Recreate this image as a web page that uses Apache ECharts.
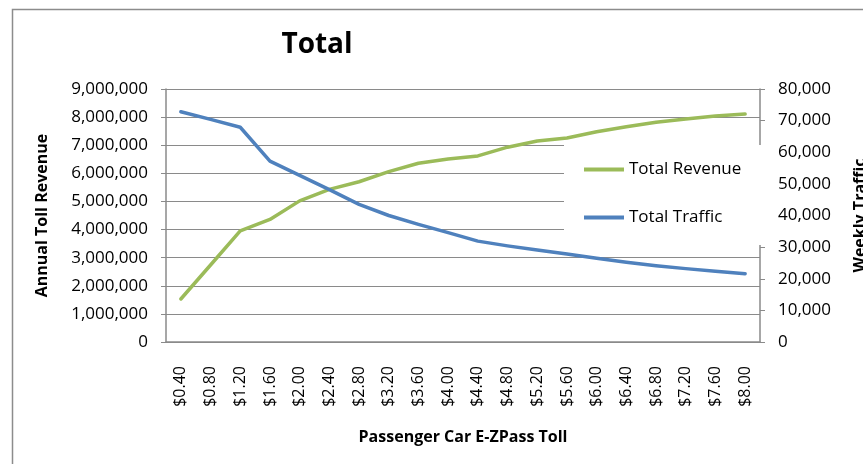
<!DOCTYPE html>
<html>
<head>
<meta charset="utf-8">
<script src="https://cdn.jsdelivr.net/npm/echarts@6/dist/echarts.min.js"></script>
<style>
  html, body { margin: 0; padding: 0; background: #fff; }
  #chart { width: 863px; height: 464px; }
</style>
</head>
<body>
<div id="chart"></div>
<script>
// Toll levels (passenger car, E-ZPass)
const tolls = ['$0.40', '$0.80', '$1.20', '$1.60', '$2.00', '$2.40', '$2.80', '$3.20', '$3.60', '$4.00',
               '$4.40', '$4.80', '$5.20', '$5.60', '$6.00', '$6.40', '$6.80', '$7.20', '$7.60', '$8.00'];

// Annual toll revenue at each toll level
const totalRevenue = [1530000, 2740000, 3950000, 4360000, 5020000, 5430000, 5700000, 6060000, 6360000, 6510000,
                      6620000, 6930000, 7150000, 7260000, 7480000, 7660000, 7820000, 7930000, 8040000, 8110000];

// Weekly traffic at each toll level
const totalTraffic = [72800, 70400, 67900, 57200, 52700, 48200, 43500, 40000, 37200, 34600,
                      31900, 30400, 29100, 27800, 26500, 25200, 24100, 23200, 22400, 21600];

const FONT = '"Open Sans", "Noto Sans", sans-serif';
const AXIS_GRAY = '#8a8a8a';
const GREEN = '#9BBB59';
const BLUE = '#4F81BD';

const fmt = v => v.toLocaleString('en-US');

const chart = echarts.init(document.getElementById('chart'), null, { renderer: 'canvas' });

chart.setOption({
  backgroundColor: '#fff',
  animation: false,
  textStyle: { fontFamily: FONT, color: '#000' },
  title: {
    text: 'Total',
    left: 317,
    top: 31,
    padding: 0,
    textAlign: 'center',
    textStyle: { fontFamily: FONT, fontSize: 28, fontWeight: 'bold', color: '#000' }
  },
  legend: {
    orient: 'vertical',
    left: 584,
    top: 161,
    padding: 0,
    itemWidth: 40,
    itemHeight: 4,
    itemGap: 31,
    icon: 'rect',
    textStyle: { fontFamily: FONT, fontSize: 17, color: '#000' },
    data: ['Total Revenue', 'Total Traffic']
  },
  graphic: [
    {
      // outer chart frame
      type: 'rect',
      z: 0,
      shape: { x: 12.5, y: 9.5, width: 900, height: 500 },
      style: { fill: 'none', stroke: '#8c8c8c', lineWidth: 1.5 },
      silent: true
    },
    {
      // legend backdrop over the plot area
      type: 'rect',
      z: 1,
      shape: { x: 564, y: 145, width: 206, height: 100 },
      style: { fill: '#fff' },
      silent: true
    }
  ],
  grid: {
    left: 166, right: 103, top: 89, bottom: 122,
    containLabel: false,
    outerBoundsMode: 'none'
  },
  xAxis: {
    type: 'category',
    data: tolls,
    boundaryGap: true,
    name: 'Passenger Car E-ZPass Toll',
    nameLocation: 'middle',
    nameGap: 87,
    nameTextStyle: { fontFamily: FONT, fontSize: 16, fontWeight: 'bold', color: '#000' },
    axisLine: { show: true, lineStyle: { color: AXIS_GRAY, width: 1.5 } },
    axisTick: { show: false },
    axisLabel: { rotate: 90, margin: 24, fontFamily: FONT, fontSize: 16, color: '#000', interval: 0 },
    splitLine: { show: false }
  },
  yAxis: [
    {
      type: 'value',
      min: 0,
      max: 9000000,
      interval: 1000000,
      position: 'left',
      name: 'Annual Toll Revenue',
      nameLocation: 'middle',
      nameRotate: 90,
      nameGap: 116,
      nameTextStyle: { fontFamily: FONT, fontSize: 16, fontWeight: 'bold', color: '#000' },
      axisLine: { show: true, lineStyle: { color: AXIS_GRAY, width: 1.5 } },
      axisTick: { show: true, length: 5, lineStyle: { color: AXIS_GRAY } },
      axisLabel: { margin: 18, fontFamily: FONT, fontSize: 17, color: '#000', formatter: fmt },
      splitLine: { show: true, lineStyle: { color: AXIS_GRAY, width: 1.2 } }
    },
    {
      type: 'value',
      min: 0,
      max: 80000,
      interval: 10000,
      position: 'right',
      name: 'Weekly Traffic',
      nameLocation: 'middle',
      nameRotate: 90,
      nameGap: 92,
      nameTextStyle: { fontFamily: FONT, fontSize: 16, fontWeight: 'bold', color: '#000' },
      axisLine: { show: true, lineStyle: { color: AXIS_GRAY, width: 1.5 } },
      axisTick: { show: true, length: 5, lineStyle: { color: AXIS_GRAY } },
      axisLabel: { margin: 18, fontFamily: FONT, fontSize: 17, color: '#000', formatter: fmt },
      splitLine: { show: false }
    }
  ],
  series: [
    {
      name: 'Total Revenue',
      type: 'line',
      yAxisIndex: 0,
      data: totalRevenue,
      symbol: 'none',
      z: 3,
      itemStyle: { color: GREEN },
      lineStyle: { color: GREEN, width: 3.5, cap: 'round', join: 'round' }
    },
    {
      name: 'Total Traffic',
      type: 'line',
      yAxisIndex: 1,
      data: totalTraffic,
      symbol: 'none',
      z: 3,
      itemStyle: { color: BLUE },
      lineStyle: { color: BLUE, width: 3.5, cap: 'round', join: 'round' }
    }
  ]
});
</script>
</body>
</html>
